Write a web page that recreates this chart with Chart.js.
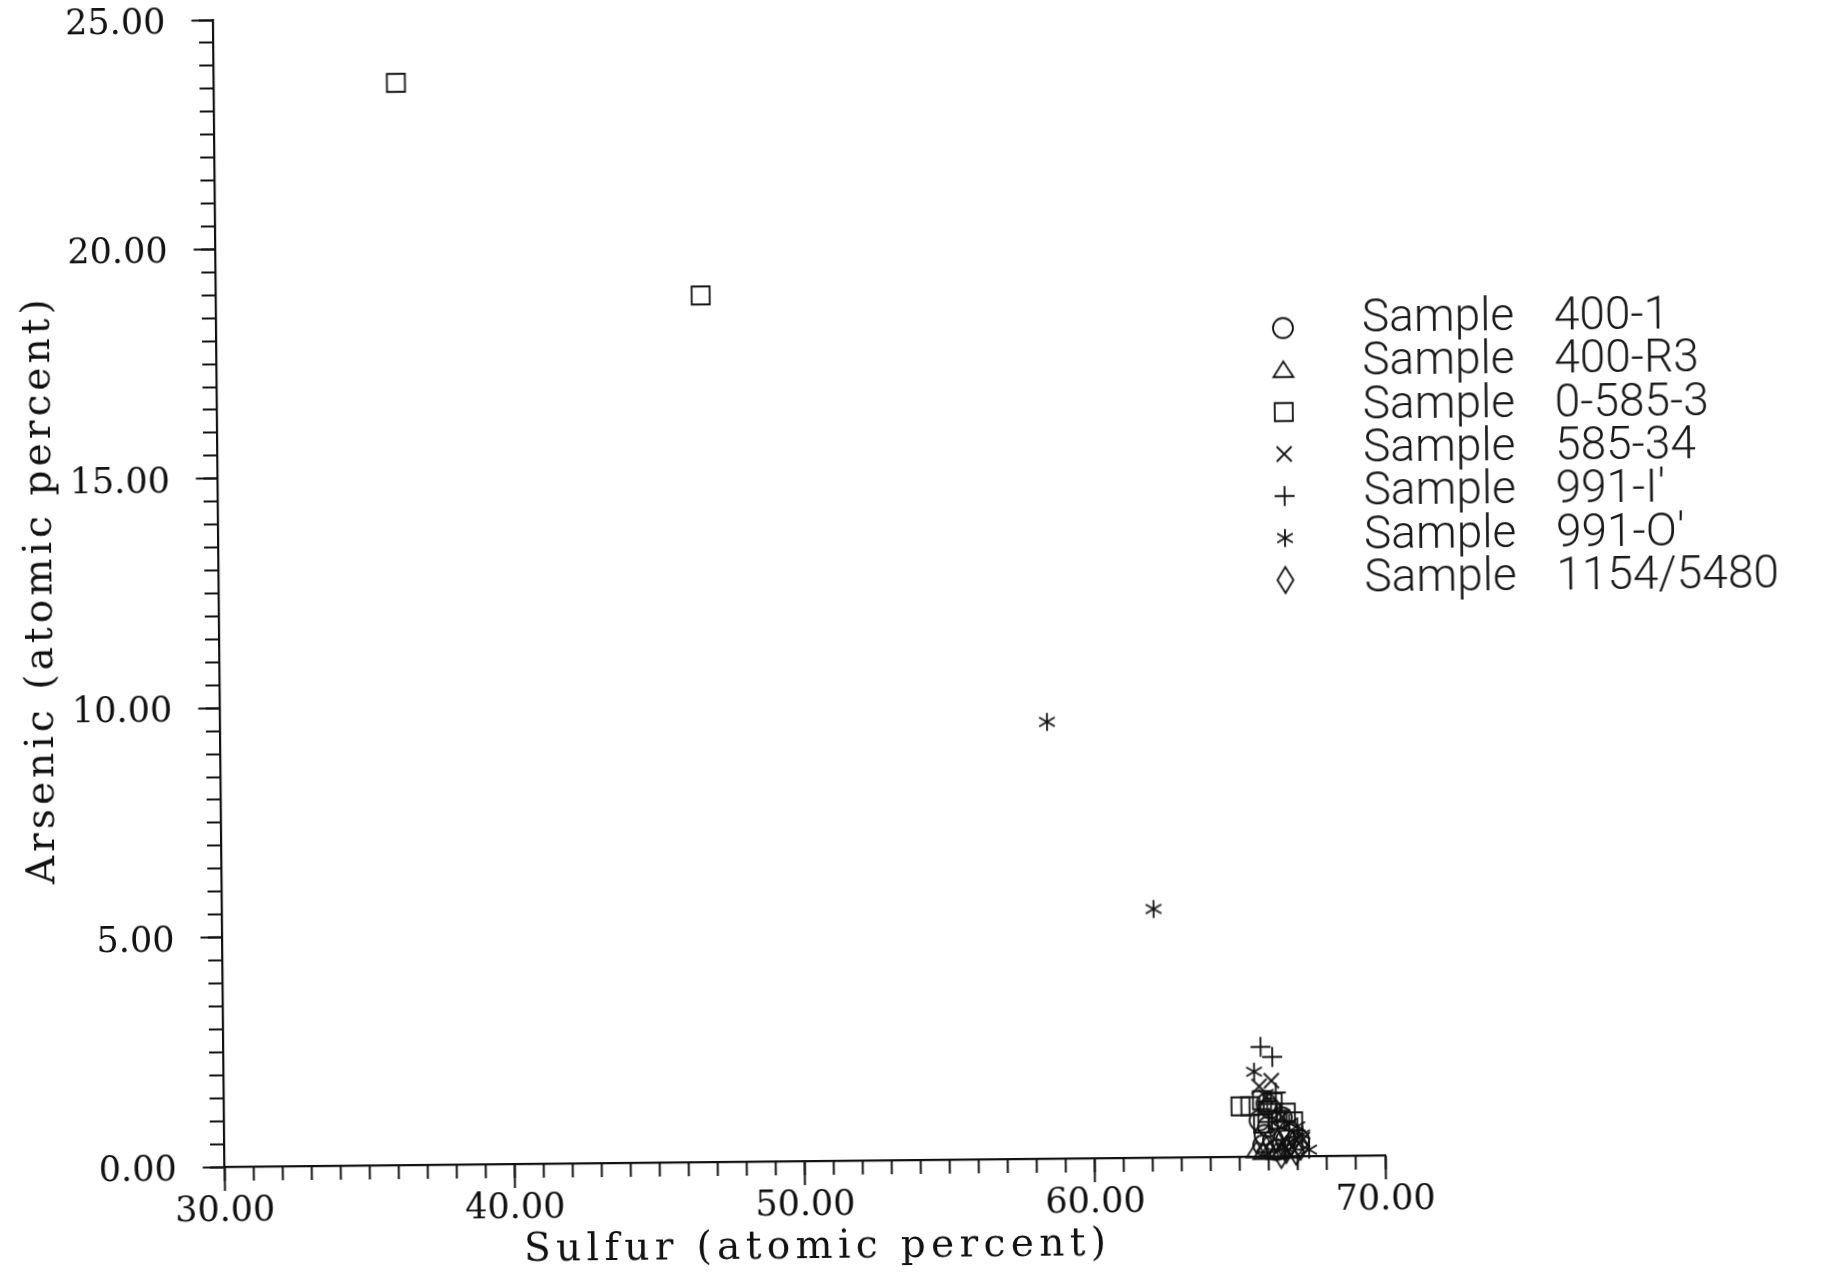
<!DOCTYPE html>
<html>
<head>
<meta charset="utf-8">
<script src="https://cdn.jsdelivr.net/npm/chart.js@4.4.1/dist/chart.umd.min.js"></script>
<style>
html,body{margin:0;padding:0;background:#fff;overflow:hidden;}
#wrap{width:1825px;height:1272px;transform:rotate(-0.57deg);transform-origin:50% 50%;background:#fff;}
canvas{display:block;}
</style>
</head>
<body>
<div id="wrap"><canvas id="c" width="1825" height="1272"></canvas></div>
<script>
// ---------------- DATA ----------------
const sampleIds = ["400-1", "400-R3", "0-585-3", "585-34", "991-I'", "991-O'", "1154/5480"];

const s400_1_x  = [65.68, 65.97, 65.85, 66.14, 66.36, 66.59, 66.81, 66.25, 67.04, 65.80, 66.05, 66.45, 65.92, 66.70];
const s400_1_y  = [0.79, 0.65, 0.47, 0.36, 0.58, 0.36, 0.21, 0.14, 0.36, 0.25, 1.05, 0.85, 1.15, 0.55];

const s400_R3_x = [65.57, 65.80, 66.02, 66.25, 66.47, 65.91, 66.70];
const s400_R3_y = [0.14, 0.10, 0.14, 0.10, 0.14, 0.25, 0.12];

const s0_585_3_x = [36.27, 46.70, 65.03, 65.37, 65.77, 66.14, 66.59, 66.84, 65.80, 65.95, 66.30];
const s0_585_3_y = [23.59, 18.89, 1.10, 1.10, 1.23, 1.18, 0.95, 0.76, 0.72, 0.95, 0.80];

const s585_34_x = [65.68, 65.91, 66.47, 67.15, 66.10];
const s585_34_y = [1.53, 1.30, 0.86, 0.36, 1.65];

const s991_I_x  = [65.74, 66.14, 66.25, 65.95, 66.40];
const s991_I_y  = [2.39, 2.17, 1.39, 1.20, 0.95];

const s991_O_x  = [58.49, 62.10, 65.51, 66.98, 67.38, 66.70, 67.15, 66.87, 66.55];
const s991_O_y  = [9.52, 5.42, 1.85, 0.65, 0.14, 0.72, 0.47, 0.36, 0.20];

const s1154_x   = [66.59, 66.76, 66.93, 66.42, 67.09];
const s1154_y   = [0.14, 0.29, 0.10, 0.03, 0.21];

const seriesX = [s400_1_x, s400_R3_x, s0_585_3_x, s585_34_x, s991_I_x, s991_O_x, s1154_x];
const seriesY = [s400_1_y, s400_R3_y, s0_585_3_y, s585_34_y, s991_I_y, s991_O_y, s1154_y];

const xMin = 30, xMax = 70, xMajor = 10, xMinor = 1;
const yMin = 0,  yMax = 25, yMajor = 5,  yMinor = 0.5;
const xTitle = "Sulfur (atomic percent)";
const yTitle = "Arsenic (atomic percent)";

// ---------------- STYLE ----------------
const markerKinds = ["circle", "triangle", "square", "cross", "plus", "asterisk", "diamond"];

function makeMarker(kind) {
  const c = document.createElement("canvas");
  c.width = 34; c.height = 34;
  const g = c.getContext("2d");
  g.strokeStyle = "#111";
  g.lineWidth = 1.8;
  g.translate(17, 17);
  g.beginPath();
  switch (kind) {
    case "circle": g.arc(0, 0, 10, 0, Math.PI * 2); break;
    case "triangle": g.moveTo(0, -8.5); g.lineTo(10, 7); g.lineTo(-10, 7); g.closePath(); break;
    case "square": g.rect(-9, -9, 18, 18); break;
    case "cross": g.moveTo(-7.5, -7.5); g.lineTo(7.5, 7.5); g.moveTo(7.5, -7.5); g.lineTo(-7.5, 7.5); break;
    case "plus": g.moveTo(-10, 0); g.lineTo(10, 0); g.moveTo(0, -10); g.lineTo(0, 10); break;
    case "asterisk":
      [90, 30, 150].forEach(a => {
        const r = 9, t = a * Math.PI / 180;
        g.moveTo(-r * Math.cos(t), -r * Math.sin(t));
        g.lineTo(r * Math.cos(t), r * Math.sin(t));
      });
      break;
    case "diamond": g.moveTo(0, -13); g.lineTo(8, 0); g.lineTo(0, 13); g.lineTo(-8, 0); g.closePath(); break;
  }
  g.stroke();
  return c;
}

const markers = markerKinds.map(makeMarker);

const datasets = sampleIds.map((id, i) => ({
  label: "Sample " + id,
  data: seriesX[i].map((x, j) => ({ x: x, y: seriesY[i][j] })),
  pointStyle: markers[i],
  pointRadius: 6,
  showLine: false,
  clip: false
}));

// Legend (drawn inside plot area, from the datasets)
const legendPlugin = {
  id: "inlineLegend",
  afterDatasetsDraw(chart) {
    const ctx = chart.ctx;
    ctx.save();
    ctx.fillStyle = "#1a1a1a";
    ctx.font = '300 46px Roboto';
    ctx.textBaseline = "middle";
    ctx.textAlign = "left";
    chart.data.datasets.forEach((ds, i) => {
      const my = 331.7 + 42 * i;
      const ty = 324.5 + 43.3 * i;
      const m = ds.pointStyle;
      ctx.drawImage(m, 1286 - m.width / 2, my - m.height / 2);
      const parts = ds.label.split(" ");
      ctx.fillText(parts[0], 1365, ty);
      ctx.fillText(parts.slice(1).join(" "), 1557, ty);
    });
    ctx.restore();
  }
};

// Axis titles (serif, widely spaced)
const titlePlugin = {
  id: "axisTitles",
  afterDraw(chart) {
    const ctx = chart.ctx;
    function spaced(text, cx, cy, rot, target) {
      ctx.save();
      ctx.font = '39px "DejaVu Serif"';
      ctx.fillStyle = "#111";
      ctx.letterSpacing = "0px";
      const w = ctx.measureText(text).width;
      const ls = (target - w) / (text.length - 1);
      ctx.letterSpacing = ls + "px";
      ctx.translate(cx, cy);
      ctx.rotate(rot);
      ctx.textAlign = "left";
      ctx.textBaseline = "middle";
      ctx.fillText(text, -target / 2, 0);
      ctx.restore();
    }
    spaced(xTitle, 809, 1247, 0, 582);
    spaced(yTitle, 41.4, 583, -Math.PI / 2, 585);
  }
};

const fmt = v => Number(v).toFixed(2);

new Chart(document.getElementById("c"), {
  type: "scatter",
  data: { datasets: datasets },
  plugins: [legendPlugin, titlePlugin],
  options: {
    responsive: false,
    animation: false,
    events: [],
    layout: { padding: { top: 13, right: 445, left: 0, bottom: 0 } },
    plugins: { legend: { display: false }, tooltip: { enabled: false } },
    scales: {
      x: {
        type: "linear", axis: "x", position: "bottom", min: xMin, max: xMax,
        ticks: { stepSize: xMajor, maxTicksLimit: 100, autoSkip: false, maxRotation: 0,
                 callback: fmt, color: "#111", padding: 3,
                 font: { family: "DejaVu Serif", size: 35, lineHeight: 1 } },
        grid: { drawOnChartArea: false, drawTicks: true, tickLength: 24, tickColor: "#111", tickWidth: 2 },
        border: { display: true, color: "#111", width: 2.2 },
        title: { display: false },
        afterFit(s) { s.height = 112; s.paddingLeft = 0; s.paddingRight = 0; }
      },
      y: {
        type: "linear", axis: "y", position: "left", min: yMin, max: yMax,
        ticks: { stepSize: yMajor, maxTicksLimit: 100, autoSkip: false, labelOffset: 4,
                 callback: fmt, color: "#111", padding: 26,
                 font: { family: "DejaVu Serif", size: 35, lineHeight: 1 } },
        grid: { drawOnChartArea: false, drawTicks: true, tickLength: 22, tickColor: "#111", tickWidth: 2 },
        border: { display: true, color: "#111", width: 2.2 },
        title: { display: false },
        afterFit(s) { s.width = 219.5; s.paddingTop = 0; s.paddingBottom = 0; }
      },
      xm: {
        type: "linear", axis: "x", position: { y: 0 }, min: xMin, max: xMax,
        ticks: { stepSize: xMinor, maxTicksLimit: 1000, autoSkip: false, display: false },
        grid: { drawOnChartArea: false, drawTicks: true, tickLength: 14, tickColor: "#111", tickWidth: 2 },
        border: { display: false }
      },
      ym: {
        type: "linear", axis: "y", position: { x: 30 }, min: yMin, max: yMax,
        ticks: { stepSize: yMinor, maxTicksLimit: 1000, autoSkip: false, display: false },
        grid: { drawOnChartArea: false, drawTicks: true, tickLength: 15, tickColor: "#111", tickWidth: 2 },
        border: { display: false }
      }
    }
  }
});
</script>
</body>
</html>
